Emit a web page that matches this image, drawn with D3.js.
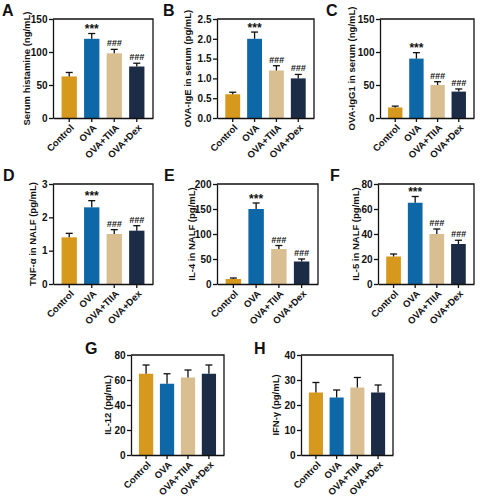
<!DOCTYPE html>
<html>
<head>
<meta charset="utf-8">
<script src="https://cdn.jsdelivr.net/npm/d3@7"></script>
<style>
  html, body { margin: 0; padding: 0; background: #fff; overflow: hidden; }
  svg { display: block; font-family: Arial, "Liberation Sans", sans-serif; }
</style>
</head>
<body>
<svg id="chart" width="481" height="500"></svg>
<script>
// ---------- DATA ----------
const categories = ["Control", "OVA", "OVA+TIIA", "OVA+Dex"];

const histamineVals = [63, 120, 98, 78];
const histamineErr  = [6, 8, 6, 5];
const igeVals = [0.6, 2.0, 1.2, 1.0];
const igeErr  = [0.05, 0.17, 0.12, 0.1];
const igg1Vals = [16, 90, 50, 40];
const igg1Err  = [2, 9, 5, 4];
const tnfVals = [1.4, 2.3, 1.5, 1.6];
const tnfErr  = [0.12, 0.2, 0.13, 0.15];
const il4Vals = [10, 150, 70, 45];
const il4Err  = [2, 12, 7, 5];
const il5Vals = [22, 65, 40, 32];
const il5Err  = [2, 5, 4, 3];
const il12Vals = [65, 57, 62, 65];
const il12Err  = [7, 8, 6, 7];
const ifnVals = [25, 23, 27, 25];
const ifnErr  = [4, 3, 4, 3];

const sigMarks = ["", "***", "###", "###"];
const noMarks  = ["", "", "", ""];

const ticksA = [0, 50, 100, 150];
const ticksB = [0, 0.5, 1.0, 1.5, 2.0, 2.5];
const ticksC = [0, 50, 100, 150];
const ticksD = [0, 1, 2, 3];
const ticksE = [0, 50, 100, 150, 200];
const ticksF = [0, 20, 40, 60, 80];
const ticksG = [0, 20, 40, 60, 80];
const ticksH = [0, 10, 20, 30, 40];

const titles = {
  A: "Serum histamine (ng/mL)",
  B: "OVA-IgE in serum (pg/mL)",
  C: "OVA-IgG1 in serum (ng/mL)",
  D: "TNF-\u03b1 in NALF (pg/mL)",
  E: "IL-4 in NALF (pg/mL)",
  F: "IL-5 in NALF (pg/mL)",
  G: "IL-12 (pg/mL)",
  H: "IFN-\u03b3 (pg/mL)"
};

const barColors = ["#D6991D", "#0E67A6", "#D9BE91", "#1D2C46"];

// ---------- LAYOUT ----------
const svg = d3.select("#chart");

const panels = [
  {id: "A", vals: histamineVals, err: histamineErr, ticks: ticksA, fmt: d3.format("d"), marks: sigMarks,
   box: [53, 19, 153, 118], titleX: 27, letter: [2, 16]},
  {id: "B", vals: igeVals, err: igeErr, ticks: ticksB, fmt: d3.format(".1f"), marks: sigMarks,
   box: [217, 19, 314, 118], titleX: 188, letter: [163, 16]},
  {id: "C", vals: igg1Vals, err: igg1Err, ticks: ticksC, fmt: d3.format("d"), marks: sigMarks,
   box: [380, 19, 474, 118], titleX: 352, letter: [326, 16]},
  {id: "D", vals: tnfVals, err: tnfErr, ticks: ticksD, fmt: d3.format("d"), marks: sigMarks,
   box: [53, 184, 153, 284], titleX: 33, letter: [3, 181]},
  {id: "E", vals: il4Vals, err: il4Err, ticks: ticksE, fmt: d3.format("d"), marks: sigMarks,
   box: [217, 184, 318, 284], titleX: 192, letter: [164, 181]},
  {id: "F", vals: il5Vals, err: il5Err, ticks: ticksF, fmt: d3.format("d"), marks: sigMarks,
   box: [378, 184, 474, 284], titleX: 356, letter: [330, 181]},
  {id: "G", vals: il12Vals, err: il12Err, ticks: ticksG, fmt: d3.format("d"), marks: noMarks,
   box: [131, 355, 224, 455], titleX: 108, letter: [85, 354]},
  {id: "H", vals: ifnVals, err: ifnErr, ticks: ticksH, fmt: d3.format("d"), marks: noMarks,
   box: [301, 355, 393, 455], titleX: 276, letter: [254, 354]}
];

panels.forEach(p => {
  const [x0, y0, x1, y1] = p.box;
  const g = svg.append("g");

  const x = d3.scaleBand().domain(categories).range([x0, x1]).paddingInner(0.32).paddingOuter(0.38);
  const y = d3.scaleLinear().domain([p.ticks[0], p.ticks[p.ticks.length - 1]]).range([y1, y0]);

  // bars
  g.selectAll("rect.bar").data(categories).join("rect")
    .attr("class", "bar")
    .attr("x", d => x(d))
    .attr("width", x.bandwidth())
    .attr("y", (d, i) => y(p.vals[i]))
    .attr("height", (d, i) => y1 - y(p.vals[i]))
    .attr("fill", (d, i) => barColors[i]);

  // error bars (upper only)
  const cap = 3.5;
  categories.forEach((c, i) => {
    const cx = x(c) + x.bandwidth() / 2;
    const yt = y(p.vals[i] + p.err[i]);
    g.append("line").attr("x1", cx).attr("x2", cx).attr("y1", y(p.vals[i])).attr("y2", yt)
      .attr("stroke", "#111").attr("stroke-width", 1.3);
    g.append("line").attr("x1", cx - cap).attr("x2", cx + cap).attr("y1", yt).attr("y2", yt)
      .attr("stroke", "#111").attr("stroke-width", 1.3);
    const m = p.marks[i];
    if (m) {
      g.append("text").attr("x", cx).attr("y", yt - (m === "***" ? 0.5 : 3))
        .attr("text-anchor", "middle")
        .attr("font-size", m === "***" ? 12 : 9)
        .attr("font-weight", "bold")
        .attr("font-style", m === "***" ? "normal" : "italic")
        .attr("fill", "#111")
        .text(m);
    }
  });

  // frame (top and right)
  g.append("path")
    .attr("d", `M${x0},${y0}H${x1}V${y1}`)
    .attr("fill", "none").attr("stroke", "#111").attr("stroke-width", 1.3);

  // y axis
  const ya = g.append("g").attr("transform", `translate(${x0},0)`)
    .call(d3.axisLeft(y).tickValues(p.ticks).tickFormat(p.fmt).tickSize(4).tickSizeOuter(0));
  ya.select(".domain").attr("stroke", "#111").attr("stroke-width", 1.3);
  ya.selectAll(".tick line").attr("stroke", "#111").attr("stroke-width", 1.3);
  ya.selectAll(".tick text").attr("font-size", 10).attr("font-weight", "bold")
    .attr("font-family", "Arial, 'Liberation Sans', sans-serif").attr("fill", "#111").attr("x", -5.5);

  // x axis
  const xa = g.append("g").attr("transform", `translate(0,${y1})`)
    .call(d3.axisBottom(x).tickSize(4).tickSizeOuter(0));
  xa.select(".domain").attr("stroke", "#111").attr("stroke-width", 1.3);
  xa.selectAll(".tick line").attr("stroke", "#111").attr("stroke-width", 1.3);
  xa.selectAll(".tick text")
    .attr("font-size", 9.5).attr("font-weight", "bold")
    .attr("font-family", "Arial, 'Liberation Sans', sans-serif").attr("fill", "#111")
    .attr("text-anchor", "end")
    .attr("dy", "0.35em")
    .attr("transform", "translate(3,8) rotate(-45)")
    .attr("x", 0).attr("y", 0);

  // y title
  g.append("text")
    .attr("transform", `translate(${p.titleX},${(y0 + y1) / 2}) rotate(-90)`)
    .attr("text-anchor", "middle")
    .attr("dominant-baseline", "middle")
    .attr("font-size", 9.5).attr("font-weight", "bold").attr("fill", "#111")
    .text(titles[p.id]);

  // panel letter
  g.append("text")
    .attr("x", p.letter[0]).attr("y", p.letter[1])
    .attr("font-size", 16).attr("font-weight", "bold").attr("fill", "#111")
    .text(p.id);
});
</script>
</body>
</html>
